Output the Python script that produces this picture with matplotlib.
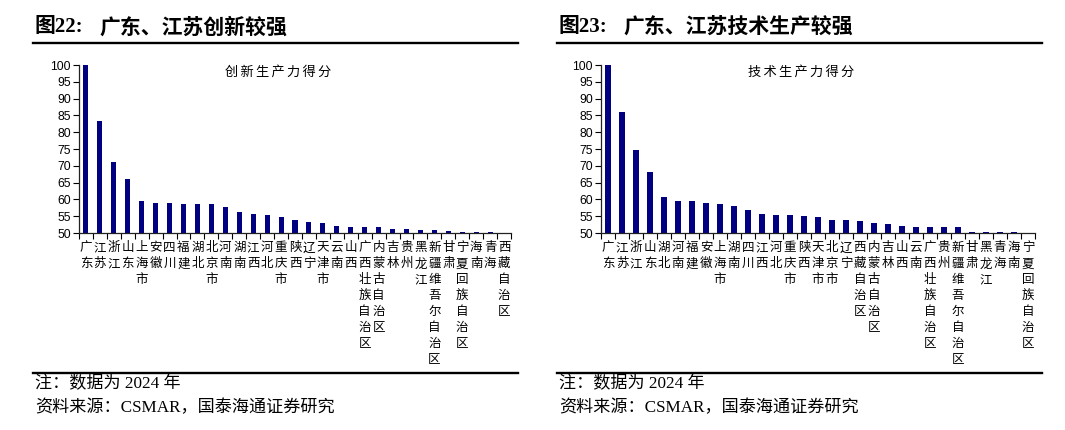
import numpy as np
import matplotlib
matplotlib.use("Agg")
import matplotlib.pyplot as plt
from matplotlib.lines import Line2D

plt.rcParams['font.family'] = ['Noto Sans CJK SC', 'DejaVu Sans']

# ---- data ----
left_title_head = "图22:"
left_title = "广东、江苏创新较强"
left_series = "创新生产力得分"
left_cats = ["广东", "江苏", "浙江", "山东", "上海市", "安徽", "四川", "福建", "湖北", "北京市",
             "河南", "湖南", "江西", "河北", "重庆市", "陕西", "辽宁", "天津市", "云南", "山西",
             "广西壮族自治区", "内蒙古自治区", "吉林", "贵州", "黑龙江", "新疆维吾尔自治区", "甘肃",
             "宁夏回族自治区", "海南", "青海", "西藏自治区"]
left_vals = [100.0, 83.4, 71.0, 66.0, 59.4, 58.9, 58.9, 58.5, 58.5, 58.5,
             57.6, 56.2, 55.8, 55.4, 54.8, 53.9, 53.4, 53.0, 52.2, 51.7,
             51.7, 51.7, 51.2, 51.2, 50.8, 50.8, 50.7, 50.4, 50.4, 50.3, 50.0]

right_title_head = "图23:"
right_title = "广东、江苏技术生产较强"
right_series = "技术生产力得分"
right_cats = ["广东", "江苏", "浙江", "山东", "湖北", "河南", "福建", "安徽", "上海市", "湖南",
              "四川", "江西", "河北", "重庆市", "陕西", "天津市", "北京市", "辽宁", "西藏自治区",
              "内蒙古自治区", "吉林", "山西", "云南", "广西壮族自治区", "贵州", "新疆维吾尔自治区",
              "甘肃", "黑龙江", "青海", "海南", "宁夏回族自治区"]
right_vals = [100.0, 86.1, 74.7, 68.3, 60.8, 59.4, 59.4, 58.9, 58.5, 58.1,
              56.7, 55.8, 55.5, 55.3, 55.0, 54.9, 54.0, 54.0, 53.5,
              53.0, 52.6, 52.2, 51.7, 51.7, 51.7, 51.7,
              50.4, 50.4, 50.4, 50.3, 50.0]

yticks = list(range(50, 101, 5))
note_text = "注：数据为 2024 年"
source_text = "资料来源：CSMAR，国泰海通证券研究"

W, H = 1065, 430
fig = plt.figure(figsize=(W / 100, H / 100), dpi=100)

bar_color = "#000080"
serif_mix = ['Liberation Serif', 'Noto Sans CJK SC']


def px(x, y):
    return x / W, 1 - y / H


def panel(x0, x_axis0, x_axis1, head, title, series, cats, vals):
    # title and rules
    fig.text(*px(x0 + 2, 27), head, fontsize=15, fontweight='bold', family=serif_mix,
             va='center', ha='left')
    fig.text(*px(x0 + 66, 27), title, fontsize=15, fontweight='bold',
             family=['Noto Sans CJK SC', 'DejaVu Sans'], va='center', ha='left')
    for yy, lw in ((43, 1.7), (373, 1.7)):
        a, b = px(x0, yy)
        c, _ = px(x0 + 485, yy)
        fig.add_artist(Line2D([a, c], [b, b], color='black', lw=lw))
    fig.text(*px(x0 + 2, 384), note_text, fontsize=12.3, family=serif_mix,
             va='center', ha='left')
    fig.text(*px(x0 + 2, 408), source_text, fontsize=12.3, family=serif_mix,
             va='center', ha='left')

    l, b = px(x_axis0, 233)
    r, t = px(x_axis1, 65)
    ax = fig.add_axes([l, b, r - l, t - b])
    n = len(cats)
    x = np.arange(n)
    ax.bar(x, np.array(vals) - 50, bottom=50, width=0.36, color=bar_color)
    ax.set_xlim(-0.5, n - 0.5)
    ax.set_ylim(50, 100)
    ax.set_yticks(yticks)
    ax.set_yticklabels([str(v) for v in yticks], fontsize=8.8, family='Liberation Sans')
    ax.set_xticks(np.arange(n + 1) - 0.5)
    ax.set_xticklabels([])
    ax.set_xticks(x, minor=True)
    ax.set_xticklabels(["\n".join(c) for c in cats], minor=True, fontsize=9,
                       linespacing=1.3, va='top', family=['Noto Sans CJK SC'])
    ax.tick_params(axis='x', which='minor', length=0, pad=6)
    ax.tick_params(axis='x', which='major', length=4, width=0.8, direction='out')
    ax.tick_params(axis='y', length=4, width=0.8, direction='out', pad=2)
    for s in ('top', 'right'):
        ax.spines[s].set_visible(False)
    for s in ('left', 'bottom'):
        ax.spines[s].set_linewidth(0.9)
        ax.spines[s].set_color('#222222')
    ax.text(0.462, 0.955, "\u2006".join(series), transform=ax.transAxes, fontsize=9.5,
            ha='center', va='center', family=['Noto Sans CJK SC', 'DejaVu Sans'])
    return ax


panel(33, 79, 511, left_title_head, left_title, left_series, left_cats, left_vals)
panel(557, 601, 1035, right_title_head, right_title, right_series, right_cats, right_vals)

fig.savefig("out.png", dpi=100)
